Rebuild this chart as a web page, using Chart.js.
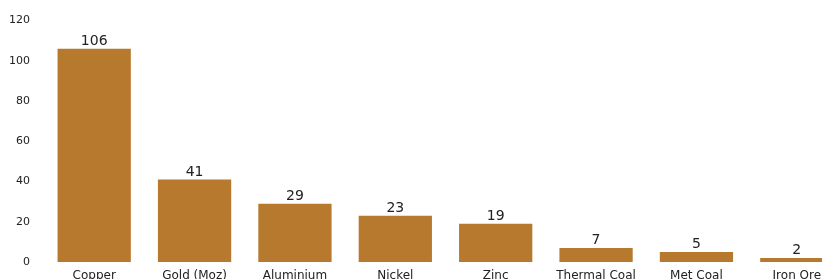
<!DOCTYPE html>
<html>
<head>
<meta charset="utf-8">
<script src="https://cdn.jsdelivr.net/npm/chart.js@4.4.0/dist/chart.umd.min.js"></script>
<style>
    html, body { margin: 0; padding: 0; background: #fff; }
    .wrap { width: 822px; height: 279px; overflow: hidden; position: relative; }
    .box { width: 847px; height: 293px; position: absolute; left: 0; top: 0; }
</style>
</head>
<body>
<div class="wrap"><div class="box"><canvas id="reserves"></canvas></div></div>
<script>
// Data
const commodities = ['Copper', 'Gold (Moz)', 'Aluminium', 'Nickel', 'Zinc', 'Thermal Coal', 'Met Coal', 'Iron Ore'];
const values = [106, 41, 29, 23, 19, 7, 5, 2];
const yTicks = [0, 20, 40, 60, 80, 100, 120];

const barColor = '#b7792e';
const textColor = '#222222';

// value labels above each bar
const valueLabels = {
    id: 'valueLabels',
    afterDatasetsDraw(chart) {
        const ctx = chart.ctx;
        const meta = chart.getDatasetMeta(0);
        ctx.save();
        ctx.font = "14px 'DejaVu Sans'";
        ctx.fillStyle = textColor;
        ctx.textAlign = 'center';
        ctx.textBaseline = 'alphabetic';
        meta.data.forEach((bar, i) => {
            ctx.fillText(values[i], bar.x, bar.y - 4);
        });
        ctx.restore();
    }
};

new Chart(document.getElementById('reserves'), {
    type: 'bar',
    data: {
        labels: commodities,
        datasets: [{ data: values, backgroundColor: barColor, barPercentage: 0.73, categoryPercentage: 1 }]
    },
    options: {
        responsive: true,
        maintainAspectRatio: false,
        animation: false,
        layout: { padding: { top: 19, right: 0, left: 0, bottom: 0 } },
        plugins: { legend: { display: false }, tooltip: { enabled: false } },
        scales: {
            y: {
                min: 0, max: 120,
                afterBuildTicks: s => { s.ticks = yTicks.map(v => ({ value: v })); },
                afterFit: s => { s.width = 44; },
                grid: { display: false, drawTicks: false },
                border: { display: false },
                ticks: { color: textColor, font: { family: 'DejaVu Sans', size: 11 }, padding: 14 }
            },
            x: {
                afterFit: s => { s.height = 31; },
                grid: { display: false, drawTicks: false },
                border: { display: false },
                ticks: { color: textColor, font: { family: 'DejaVu Sans', size: 12 }, padding: 7, maxRotation: 0, autoSkip: false }
            }
        }
    },
    plugins: [valueLabels]
});
</script>
</body>
</html>
